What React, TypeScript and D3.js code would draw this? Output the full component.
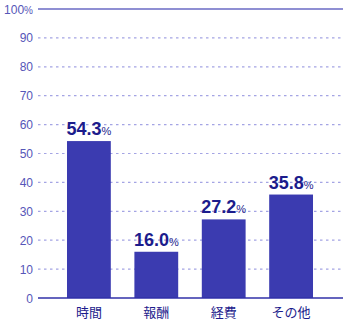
import React from "react";
import * as d3 from "d3";

const categories = ["時間", "報酬", "経費", "その他"];
const values = [54.3, 16.0, 27.2, 35.8];
const ticks = [0, 10, 20, 30, 40, 50, 60, 70, 80, 90, 100];

export default function App() {
  const W = 350, H = 322;
  const left = 38, right = 343, top = 9, bottom = 298;
  const x = d3.scaleBand().domain(categories).range([55.2, 324.8]).paddingInner(0.35).paddingOuter(0.175);
  const y = d3.scaleLinear().domain([0, 100]).range([bottom, top]);
  const barColor = "#3b3bb0";
  const dark = "#1c1c8c";
  const tickColor = "#5656b8";
  const font = "Liberation Sans, Arial, sans-serif";
  return (
    <svg width={W} height={H} style={{ position: "absolute", left: 0, top: 0, background: "#fff" }}>
      {ticks.map((t) => (
        <g key={t}>
          {t > 0 && t < 100 && (
            <line x1={left} x2={right} y1={y(t)} y2={y(t)} stroke="#a4a4e4" strokeWidth={1.2} strokeDasharray="2.5,3.5" />
          )}
          <text x={33} y={y(t) + 4.5} textAnchor="end" fill={tickColor} fontFamily={font} fontSize={12}>
            {t}
            {t === 100 && <tspan fontSize={10}>%</tspan>}
          </text>
        </g>
      ))}
      <line x1={left} x2={right} y1={y(100)} y2={y(100)} stroke="#6a6ac4" strokeWidth={1.6} />
      {categories.map((c, i) => (
        <g key={c}>
          <rect x={x(c)} y={y(values[i])} width={x.bandwidth()} height={bottom - y(values[i])} fill={barColor} />
          <text x={x(c)! + x.bandwidth() / 2} y={y(values[i]) - 6} textAnchor="middle" fill={dark} fontFamily={font} fontWeight="bold" fontSize={18}>
            {values[i].toFixed(1)}
            <tspan fontSize={11} fontWeight="normal">%</tspan>
          </text>
          <text x={x(c)! + x.bandwidth() / 2} y={317} textAnchor="middle" fill={dark} fontFamily="Noto Sans CJK JP, sans-serif" fontSize={13}>
            {c}
          </text>
        </g>
      ))}
      <line x1={left} x2={right} y1={bottom} y2={bottom} stroke="#3030a8" strokeWidth={1.6} />
    </svg>
  );
}
